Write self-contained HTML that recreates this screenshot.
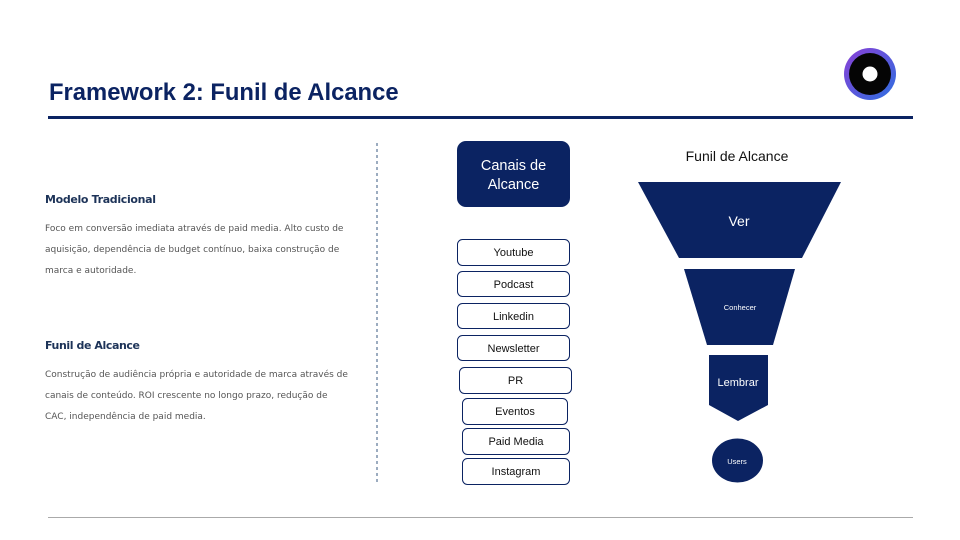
<!DOCTYPE html>
<html><head><meta charset="utf-8"><style>
body{margin:0;background:#fff;}
svg{display:block;}
</style></head><body>
<svg width="960" height="540" xmlns="http://www.w3.org/2000/svg" font-family="Liberation Sans, sans-serif">
<defs><linearGradient id="g" x1="0" y1="0" x2="1" y2="1"><stop offset="0" stop-color="#8a3fd6"/><stop offset="1" stop-color="#2d6fe0"/></linearGradient></defs>
<text x="49" y="100" font-size="23.8" font-weight="bold" fill="#0b2362">Framework 2: Funil de Alcance</text>
<rect x="48" y="116" width="865" height="3" fill="#0b2362"/>
<circle cx="870" cy="74" r="26" fill="url(#g)"/>
<circle cx="870" cy="74" r="21" fill="#050505"/>
<circle cx="870" cy="74" r="7.5" fill="#fff"/>
<line x1="377" y1="143" x2="377" y2="484" stroke="#3a5a80" stroke-width="1" stroke-dasharray="3,3"/>
<g font-family="DejaVu Sans, sans-serif">
<text x="45" y="203" font-size="11" font-weight="bold" fill="#1d3358" textLength="111">Modelo Tradicional</text>
<g font-size="9" fill="#555"><text x="45" y="231">Foco em conversão imediata através de paid media. Alto custo de</text>
<text x="45" y="252">aquisição, dependência de budget contínuo, baixa construção de</text>
<text x="45" y="273">marca e autoridade.</text></g>
<text x="45" y="349" font-size="11" font-weight="bold" fill="#1d3358" textLength="95">Funil de Alcance</text>
<g font-size="9" fill="#555"><text x="45" y="377">Construção de audiência própria e autoridade de marca através de</text>
<text x="45" y="398">canais de conteúdo. ROI crescente no longo prazo, redução de</text>
<text x="45" y="419">CAC, independência de paid media.</text></g>
</g>
<rect x="457" y="141" width="113" height="66" rx="9" fill="#0b2362"/>
<text x="513.5" y="170" font-size="14.5" fill="#fff" text-anchor="middle">Canais de</text>
<text x="513.5" y="189" font-size="14.5" fill="#fff" text-anchor="middle">Alcance</text>
<g fill="#fff" stroke="#0b2362" stroke-width="1" font-size="11" text-anchor="middle">
<rect x="457.5" y="239.5" width="112" height="26" rx="5"/>
<rect x="457.5" y="271.5" width="112" height="25" rx="5"/>
<rect x="457.5" y="303.5" width="112" height="25" rx="5"/>
<rect x="457.5" y="335.5" width="112" height="25" rx="5"/>
<rect x="459.5" y="367.5" width="112" height="26" rx="5"/>
<rect x="462.5" y="398.5" width="105" height="26" rx="5"/>
<rect x="462.5" y="428.5" width="107" height="26" rx="5"/>
<rect x="462.5" y="458.5" width="107" height="26" rx="5"/>
</g>
<g fill="#111" font-size="11" text-anchor="middle">
<text x="513.5" y="256">Youtube</text>
<text x="513.5" y="288">Podcast</text>
<text x="513.5" y="320">Linkedin</text>
<text x="513.5" y="352">Newsletter</text>
<text x="515.5" y="384">PR</text>
<text x="515" y="415">Eventos</text>
<text x="516" y="445">Paid Media</text>
<text x="516" y="475">Instagram</text>
</g>
<text x="737" y="161" font-size="14" fill="#111" text-anchor="middle">Funil de Alcance</text>
<polygon points="638,182 841,182 802,258 679,258" fill="#0b2362"/>
<text x="739" y="226" font-size="14" fill="#fff" text-anchor="middle">Ver</text>
<polygon points="684,269 795,269 773,345 707,345" fill="#0b2362"/>
<text x="740" y="310" font-size="7.5" fill="#fff" text-anchor="middle">Conhecer</text>
<polygon points="709,355 768,355 768,405 738,421 709,405" fill="#0b2362"/>
<text x="738" y="386" font-size="11" fill="#fff" text-anchor="middle">Lembrar</text>
<ellipse cx="737.5" cy="460.5" rx="25.5" ry="22" fill="#0b2362"/>
<text x="737" y="464" font-size="7.5" fill="#fff" text-anchor="middle">Users</text>
<rect x="48" y="517" width="865" height="1" fill="#aaa"/>
</svg>
</body></html>
